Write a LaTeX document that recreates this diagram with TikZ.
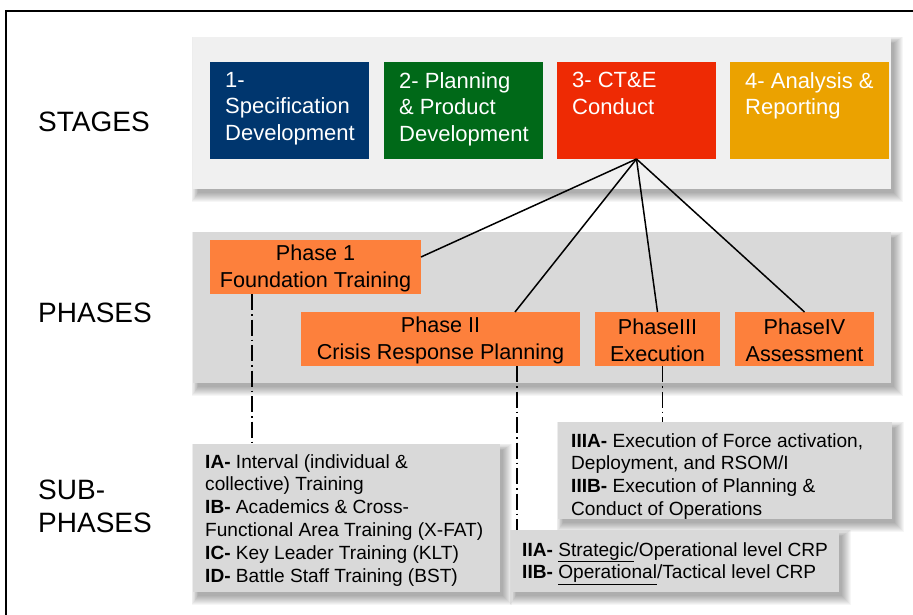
\documentclass[tikz,border=0pt]{standalone}
\usepackage{fontspec}
\setmainfont{Liberation Sans}
\usetikzlibrary{calc,backgrounds}

\definecolor{stageblue}{RGB}{0,54,110}
\definecolor{stagegreen}{RGB}{0,105,24}
\definecolor{stagered}{RGB}{238,42,4}
\definecolor{stagegold}{RGB}{235,162,0}
\definecolor{phaseorange}{RGB}{253,128,60}
\definecolor{panellight}{RGB}{240,240,240}
\definecolor{panelgray}{RGB}{217,217,217}

% soft drop shadow behind a named node (stacked translucent rectangles)
\newcommand{\softshadow}[1]{%
  \begin{scope}[on background layer]
    \foreach \k in {0,1,...,9}{
      \fill[black, opacity=0.035]
        ($(#1.north west)+(5-0.7*\k,6-0.7*\k)$) rectangle ($(#1.south east)+(3+\k,4+\k)$);
    }
  \end{scope}}

\tikzset{
  box/.style={rectangle, inner sep=0pt, outer sep=0pt, anchor=north west},
  stagebox/.style={box, minimum width=159pt, minimum height=97pt},
  stagetext/.style={anchor=north west, inner sep=0pt, align=left, text=white,
    font=\fontsize{22}{26.5}\selectfont},
  phasebox/.style={box, fill=phaseorange, minimum height=54pt},
  phasetext/.style={inner sep=0pt, align=center,
    font=\fontsize{21.6}{27}\selectfont},
  subbox/.style={box, fill=panelgray},
  subtext/.style={anchor=north west, inner sep=0pt, align=left,
    font=\fontsize{19.1}{22.9}\selectfont},
  rowlabel/.style={anchor=west, inner sep=0pt, align=left,
    font=\fontsize{28}{33}\selectfont},
  link/.style={draw=black, line width=1.5pt},
  sublink/.style={draw=black, line width=1.3pt, dash pattern=on 16pt off 4pt on 1.5pt off 4pt},
}

\begin{document}
\begin{tikzpicture}[x=1pt, y=-1pt]
  \clip (0,0) rectangle (913,615);
  \begin{scope}[on background layer]
    \fill[white] (0,0) rectangle (913,615);
  \end{scope}

  % outer frame
  \draw[line width=1.5pt] (6,640) -- (6,11) -- (940,11);

  % row labels
  \node[rowlabel] (lstages) at (38,122) {STAGES};
  \node[rowlabel] (lphases) at (38,313) {PHASES};
  \node[rowlabel, anchor=north west] (lsub) at (38,480) {SUB-\\PHASES};

  % stages panel
  \node[box, fill=panellight, minimum width=698pt, minimum height=152pt] (stagepanel) at (193,37) {};
  \softshadow{stagepanel}
  \node[stagebox, fill=stageblue]  (s1) at (210,62) {};
  \node[stagebox, fill=stagegreen] (s2) at (384,62) {};
  \node[stagebox, fill=stagered]   (s3) at (557,62) {};
  \node[stagebox, fill=stagegold]  (s4) at (730,62) {};
  \node[stagetext] (t1) at (225,72) {1-\\Specification\\Development};
  \node[stagetext] (t2) at (399,72) {2- Planning\\\& Product\\Development};
  \node[stagetext] (t3) at (572,72) {3- CT\&E\\Conduct};
  \node[stagetext] (t4) at (745,72) {4- Analysis \&\\Reporting};

  % phases panel
  \node[box, fill=panelgray, minimum width=698pt, minimum height=151pt] (phasepanel) at (193,232) {};
  \softshadow{phasepanel}
  \node[phasebox, minimum width=211pt] (p1) at (210,240) {};
  \node[phasebox, minimum width=279pt] (p2) at (301,312) {};
  \node[phasebox, minimum width=125pt] (p3) at (595,312) {};
  \node[phasebox, minimum width=139pt] (p4) at (735,312) {};
  \node[phasetext] (pt1) at ($(p1.center)+(0,1.5)$) {Phase 1\\Foundation Training};
  \node[phasetext] (pt2) at ($(p2.center)+(0,1.5)$) {Phase II\\Crisis Response Planning};
  \node[phasetext] (pt3) at ($(p3.center)+(0,1.5)$) {PhaseIII\\Execution};
  \node[phasetext] (pt4) at ($(p4.center)+(0,1.5)$) {PhaseIV\\Assessment};

  % stage 3 fans out to the four phases
  \draw[link] (s3.south) -- ($(p1.east)+(0,-10)$);
  \draw[link] (s3.south) -- ($(p2.north east)+(-65,0)$);
  \draw[link] (s3.south) -- (p3.north);
  \draw[link] (s3.south) -- (p4.north);

  % sub-phase boxes
  \node[subbox, minimum width=307pt, minimum height=148pt] (sI) at (193,444) {};
  \softshadow{sI}
  \node[subbox, minimum width=334pt, minimum height=97pt] (sIII) at (558,422) {};
  \softshadow{sIII}
  \node[subbox, minimum width=328pt, minimum height=62pt] (sII) at (511,530) {};
  \softshadow{sII}

  \node[subtext] (tI) at (205,454) {\textbf{IA-} Interval (individual \&\\collective) Training\\\textbf{IB-} Academics \& Cross-\\Functional Area Training (X-FAT)\\\textbf{IC-} Key Leader Training (KLT)\\\textbf{ID-} Battle Staff Training (BST)};
  \node[subtext] (tIII) at (571,433) {\textbf{IIIA-} Execution of Force activation,\\Deployment, and RSOM/I\\\textbf{IIIB-} Execution of Planning \&\\Conduct of Operations};
  \node[subtext] (tII) at (522,542) {\textbf{IIA-} \underline{Strategic}/Operational level CRP\\\textbf{IIB-} \underline{Operational}/Tactical level CRP};

  % phases down to their sub-phases
  \coordinate (d1) at ($(p1.south west)+(42,0)$);
  \coordinate (d2) at ($(p2.south west)+(216,0)$);
  \coordinate (d3) at ($(p3.south)+(5,0)$);
  \draw[sublink] (d1) -- (d1 |- sI.north);
  \draw[sublink] (d2) -- (d2 |- sII.north);
  \draw[sublink] (d3) -- (d3 |- sIII.north);
\end{tikzpicture}
\end{document}
